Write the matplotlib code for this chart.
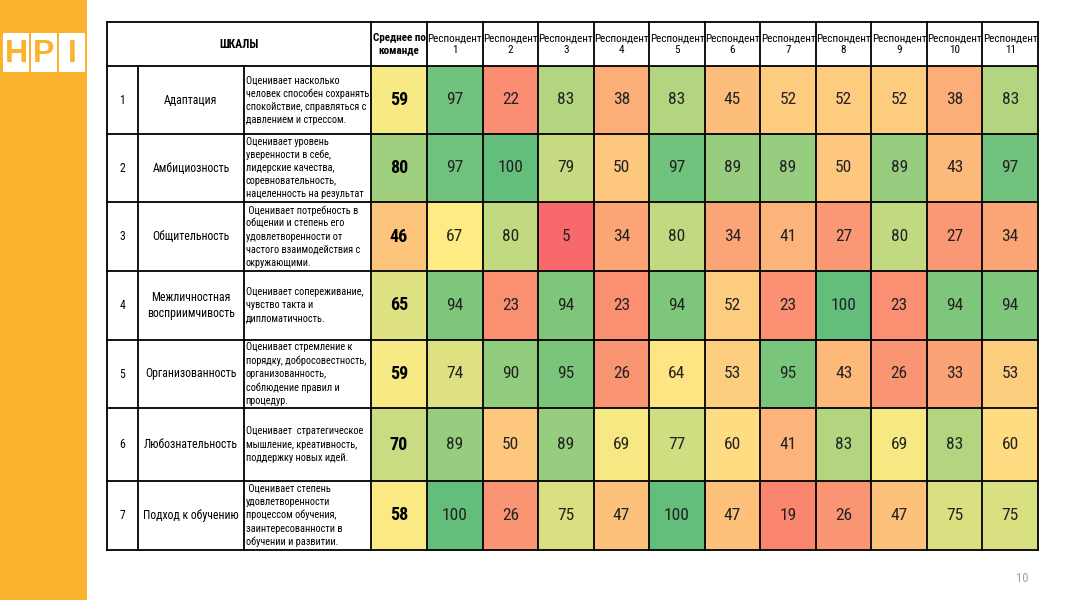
from matplotlib import pyplot as plt
from matplotlib.patches import Rectangle
from matplotlib.colors import LinearSegmentedColormap, TwoSlopeNorm
import numpy as np

# ---- data ----
scale_names = ["Адаптация", "Амбициозность", "Общительность",
               "Межличностная\nвосприимчивость", "Организованность",
               "Любознательность", "Подход к обучению"]
descriptions = [
    "Оценивает насколько\nчеловек способен сохранять\nспокойствие, справляться с\nдавлением и стрессом.",
    "Оценивает уровень\nуверенности в себе,\nлидерские качества,\nсоревновательность,\nнацеленность на результат",
    " Оценивает потребность в\nобщении и степень его\nудовлетворенности от\nчастого взаимодействия с\nокружающими.",
    "Оценивает сопереживание,\nчувство такта и\nдипломатичность.",
    "Оценивает стремление к\nпорядку, добросовестность,\nорганизованность,\nсоблюдение правил и\nпроцедур.",
    "Оценивает  стратегическое\nмышление, креативность,\nподдержку новых идей.",
    " Оценивает степень\nудовлетворенности\nпроцессом обучения,\nзаинтересованности в\nобучении и развитии.",
]
team_avg = [59, 80, 46, 65, 59, 70, 58]
respondents = ["Респондент\n%d" % i for i in range(1, 12)]
scores = [
    [97, 22, 83, 38, 83, 45, 52, 52, 52, 38, 83],
    [97, 100, 79, 50, 97, 89, 89, 50, 89, 43, 97],
    [67, 80, 5, 34, 80, 34, 41, 27, 80, 27, 34],
    [94, 23, 94, 23, 94, 52, 23, 100, 23, 94, 94],
    [74, 90, 95, 26, 64, 53, 95, 43, 26, 33, 53],
    [89, 50, 89, 69, 77, 60, 41, 83, 69, 83, 60],
    [100, 26, 75, 47, 100, 47, 19, 26, 47, 75, 75],
]
page_no = "10"

# ---- layout (pixels) ----
W, H = 1067, 600
x_num, x_name, x_desc, x_avg, x_resp0, x_right = 107, 138, 244, 371, 427, 1038
row_edges = np.array([22, 66, 134, 202, 271, 340, 408, 481, 550])
resp_edges = np.linspace(x_resp0, x_right, len(respondents) + 1)

plt.rcParams['font.family'] = ['Roboto Condensed', 'DejaVu Sans']
plt.rcParams['font.stretch'] = 'condensed'

# excel style red-yellow-green
rdylgn = LinearSegmentedColormap.from_list("xl", ["#F8696B", "#FFEB84", "#63BE7B"])

fig = plt.figure(figsize=(W / 100, H / 100), dpi=100)
ax = fig.add_axes([0, 0, 1, 1])
ax.set_xlim(0, W)
ax.set_ylim(H, 0)
ax.axis('off')

# side bar + logo
ax.add_patch(Rectangle((0, 0), 87, H, color='#FBB22E', lw=0))
for i, letter in enumerate("HPI"):
    x0 = 3 + i * 28
    ax.add_patch(Rectangle((x0, 33), 26, 39, color='white', lw=0))
    ax.text(x0 + 13, 53.5, letter, color='#FBB22E', fontsize=23, fontweight='bold',
            ha='center', va='center', family='Liberation Sans', stretch='normal')

# heat cells
vals = np.array(scores, dtype=float)
ax.pcolormesh(resp_edges, row_edges[1:], vals, cmap=rdylgn,
              norm=TwoSlopeNorm(vmin=5, vcenter=67, vmax=100))
ax.pcolormesh([x_avg, x_resp0], row_edges[1:], np.array(team_avg, float)[:, None],
              cmap=rdylgn, norm=TwoSlopeNorm(vmin=20, vcenter=57, vmax=95))

# grid
lw = 1.3
for y in row_edges:
    ax.plot([x_num, x_right], [y, y], color='black', lw=lw)
ax.plot([x_num, x_num], [row_edges[0], row_edges[-1]], color='black', lw=lw)
for x in [x_name, x_desc]:
    ax.plot([x, x], [row_edges[1], row_edges[-1]], color='black', lw=lw)
for x in [x_avg] + list(resp_edges):
    ax.plot([x, x], [row_edges[0], row_edges[-1]], color='black', lw=lw)

# header
hy = (row_edges[0] + row_edges[1]) / 2
ax.text((x_num + x_avg) / 2, hy, "ШКАЛЫ", fontsize=8.5, fontweight='bold', ha='center', va='center')
ax.text((x_avg + x_resp0) / 2, hy, "Среднее по\nкоманде", fontsize=8, fontweight='bold',
        ha='center', va='center', linespacing=1.2)
for j, name in enumerate(respondents):
    ax.text((resp_edges[j] + resp_edges[j + 1]) / 2, hy, name, fontsize=8,
            ha='center', va='center', linespacing=1.2)

# rows
for i in range(len(scale_names)):
    cy = (row_edges[i + 1] + row_edges[i + 2]) / 2
    ax.text((x_num + x_name) / 2, cy, str(i + 1), fontsize=8.5, ha='center', va='center')
    ax.text((x_name + x_desc) / 2, cy, scale_names[i], fontsize=8.5, ha='center', va='center',
            linespacing=1.3)
    ax.text(x_desc + 1.5, cy, descriptions[i], fontsize=7.4, ha='left', va='center', linespacing=1.38)
    ax.text((x_avg + x_resp0) / 2, cy, str(team_avg[i]), fontsize=13, fontweight='bold',
            ha='center', va='center')
    for j, v in enumerate(scores[i]):
        ax.text((resp_edges[j] + resp_edges[j + 1]) / 2, cy, str(v), fontsize=12.5,
                ha='center', va='center', color='#222222')

ax.text(1022, 578, page_no, fontsize=9, color='#A0A0A0', ha='center', va='center')

fig.savefig('out.png', dpi=100)
